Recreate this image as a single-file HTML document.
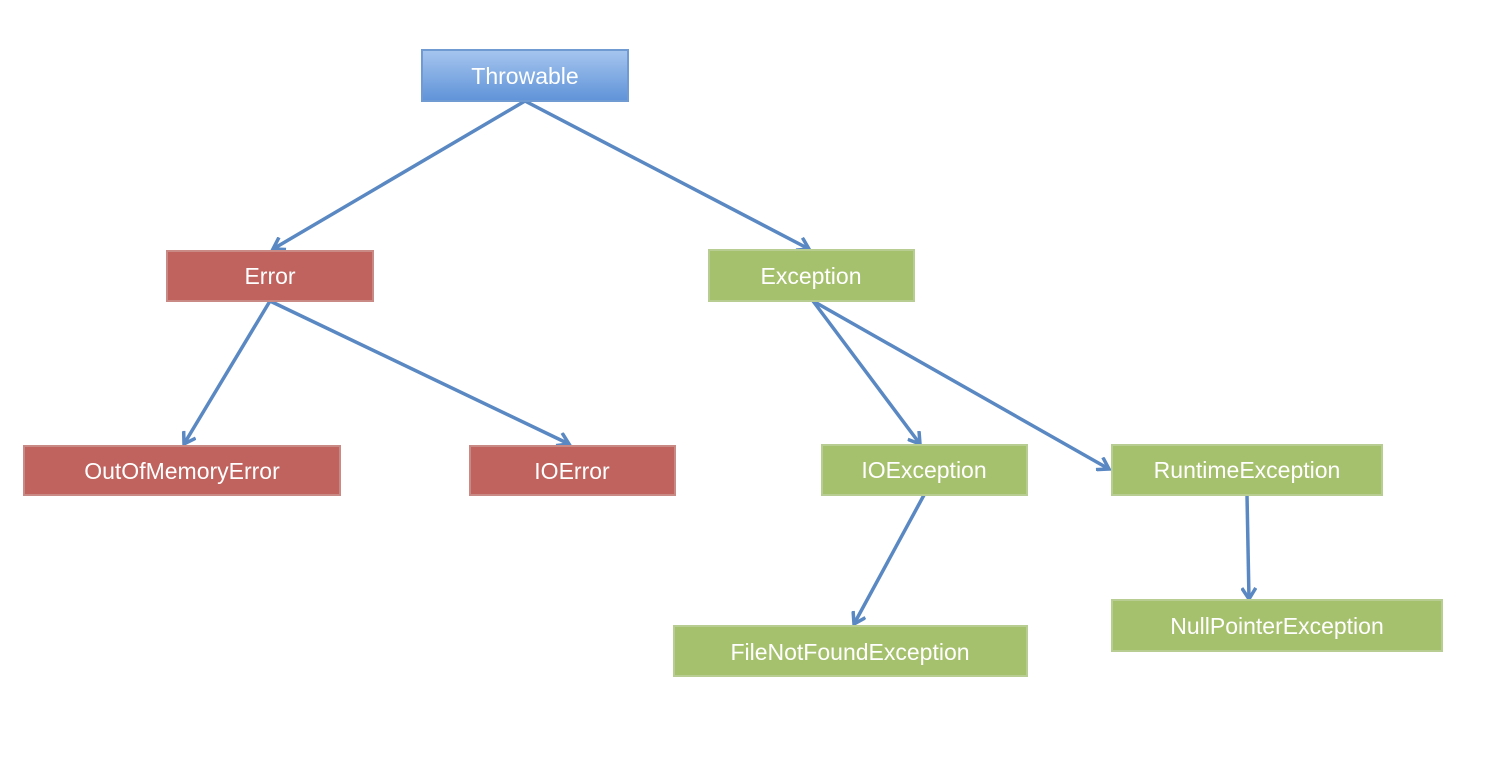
<!DOCTYPE html>
<html><head><meta charset="utf-8"><style>
html,body{margin:0;padding:0;background:#fff;}
svg{display:block;}
text{font-family:"Liberation Sans",sans-serif;font-size:23px;fill:#fff;text-anchor:middle;}
</style></head><body>
<svg width="1506" height="762" viewBox="0 0 1506 762">
<defs>
<linearGradient id="b" x1="0" y1="0" x2="0" y2="1"><stop offset="0" stop-color="#a6c6ef"/><stop offset="1" stop-color="#5f93d8"/></linearGradient>
<marker id="a" markerWidth="16" markerHeight="16" refX="13" refY="8" orient="auto" markerUnits="userSpaceOnUse"><path d="M2,1 L13,8 L2,15" fill="none" stroke="#5a88c2" stroke-width="3.5"/></marker>
</defs>
<g stroke="#5a88c2" stroke-width="3.5" fill="none" marker-end="url(#a)">
<line x1="525" y1="101" x2="273" y2="249"/>
<line x1="525" y1="101" x2="809" y2="249"/>
<line x1="270" y1="301" x2="184" y2="444"/>
<line x1="270" y1="301" x2="569" y2="444"/>
<line x1="813" y1="301" x2="920" y2="444"/>
<line x1="813" y1="301" x2="1109" y2="469"/>
<line x1="924" y1="495" x2="854" y2="624"/>
<line x1="1247" y1="495" x2="1249" y2="599"/>
</g>
<g stroke-width="2">
<rect x="422" y="50" width="206" height="51" fill="url(#b)" stroke="#6f9ad2"/>
<rect x="167" y="251" width="206" height="50" fill="#c0625d" stroke="#c98a86"/>
<rect x="24" y="446" width="316" height="49" fill="#c0625d" stroke="#c98a86"/>
<rect x="470" y="446" width="205" height="49" fill="#c0625d" stroke="#c98a86"/>
<rect x="709" y="250" width="205" height="51" fill="#a6c16d" stroke="#b7cd92"/>
<rect x="822" y="445" width="205" height="50" fill="#a6c16d" stroke="#b7cd92"/>
<rect x="1112" y="445" width="270" height="50" fill="#a6c16d" stroke="#b7cd92"/>
<rect x="674" y="626" width="353" height="50" fill="#a6c16d" stroke="#b7cd92"/>
<rect x="1112" y="600" width="330" height="51" fill="#a6c16d" stroke="#b7cd92"/>
</g>
<text x="525" y="84">Throwable</text>
<text x="270" y="284">Error</text>
<text x="182" y="479">OutOfMemoryError</text>
<text x="572" y="479">IOError</text>
<text x="811" y="284">Exception</text>
<text x="924" y="478">IOException</text>
<text x="1247" y="478">RuntimeException</text>
<text x="850" y="660">FileNotFoundException</text>
<text x="1277" y="634">NullPointerException</text>
</svg>
</body></html>
